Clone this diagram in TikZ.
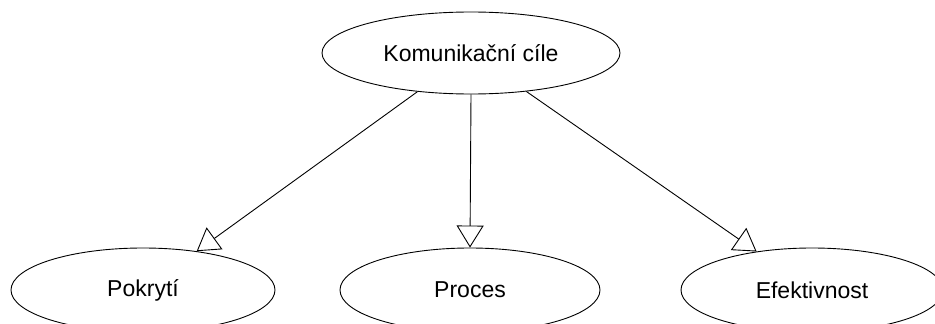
\documentclass[tikz,border=0pt]{standalone}
\usepackage{fontspec}
\setmainfont{Liberation Sans}
\usetikzlibrary{shapes.geometric,arrows.meta}
\begin{document}
\begin{tikzpicture}[x=1pt,y=-1pt,
  goal/.style={draw=black, line width=0.9pt, ellipse, inner sep=0pt,
    minimum width=264pt, minimum height=84pt, font=\fontsize{23}{26}\selectfont},
  link/.style={draw=black, line width=0.9pt,
    -{Triangle[open, length=22pt, width=27pt, line width=0.9pt]}}]
  \useasboundingbox (0,0) rectangle (935,324);
  \node[goal, minimum width=298pt, minimum height=82pt] (top) at (471,53) {Komunikační cíle};
  \node[goal] (a) at (143,290) {Pokrytí};
  \node[goal, minimum width=260pt] (b) at (470,290) {Proces};
  \node[goal, minimum width=262pt] (c) at (812,290) {Efektivnost};
  \draw[link] (top) -- (a);
  \draw[link] (top.south) -- (b.north);
  \draw[link] (top) -- (c);
\end{tikzpicture}
\end{document}
